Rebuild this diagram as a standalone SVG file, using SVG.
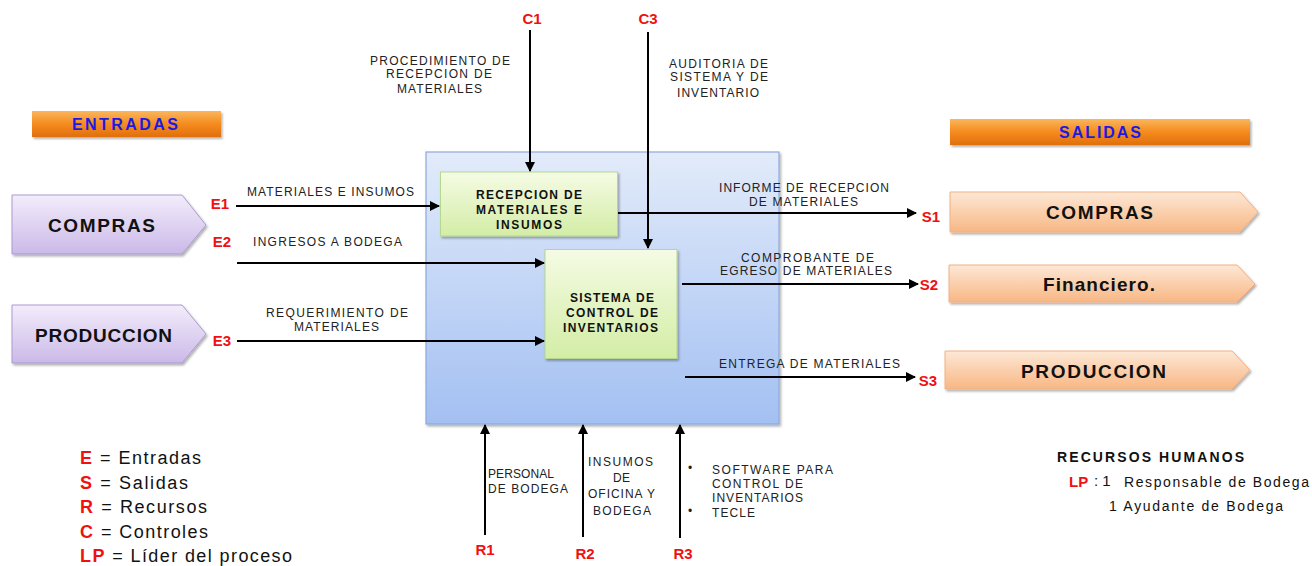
<svg xmlns="http://www.w3.org/2000/svg" width="1312" height="566" viewBox="0 0 1312 566">
<defs>
<linearGradient id="gBlue" x1="0" y1="0" x2="0" y2="1"><stop offset="0" stop-color="#e2ebfa"/><stop offset="1" stop-color="#a3c0f2"/></linearGradient>
<linearGradient id="gGreen" x1="0" y1="0" x2="0" y2="1"><stop offset="0" stop-color="#f5fbe4"/><stop offset="1" stop-color="#d3eda6"/></linearGradient>
<linearGradient id="gLav" x1="0" y1="0" x2="0" y2="1"><stop offset="0" stop-color="#f3edfb"/><stop offset="1" stop-color="#cbb9e8"/></linearGradient>
<linearGradient id="gPeach" x1="0" y1="0" x2="0" y2="1"><stop offset="0" stop-color="#fde8d6"/><stop offset="1" stop-color="#f8b784"/></linearGradient>
<linearGradient id="gOrange" x1="0" y1="0" x2="0" y2="1"><stop offset="0" stop-color="#fbb65e"/><stop offset="0.5" stop-color="#f58b1e"/><stop offset="1" stop-color="#e06f0d"/></linearGradient>
<filter id="sh" x="-10%" y="-10%" width="120%" height="130%"><feDropShadow dx="1.5" dy="2" stdDeviation="1.2" flood-color="#000" flood-opacity="0.3"/></filter>
<marker id="arr" viewBox="0 0 10 10" refX="9" refY="5" markerWidth="5" markerHeight="5" orient="auto"><path d="M0,0 L10,5 L0,10 z" fill="#000"/></marker>
</defs>
<style>
text{font-family:"Liberation Sans",Arial,sans-serif;}
.lbl{font-size:12px;fill:#222;}
.red{font-size:15px;font-weight:bold;fill:#f01010;}
.box{font-size:12px;font-weight:bold;fill:#111;}
.big{font-size:19px;font-weight:bold;fill:#111;}
.ttl{font-size:16px;font-weight:bold;fill:#1a1ae6;}
.leg{font-size:18px;fill:#111;}
.legr{font-size:18px;font-weight:bold;fill:#f01010;}
.ln{stroke:#000;stroke-width:2;fill:none;}
</style>

<g id="entradas-title">
<rect x="32" y="111" width="189" height="26" fill="url(#gOrange)" filter="url(#sh)"/>
<text x="72" y="130" class="ttl" textLength="106" lengthAdjust="spacing">ENTRADAS</text>
</g>
<g id="salidas-title">
<rect x="950" y="119" width="300" height="26" fill="url(#gOrange)" filter="url(#sh)"/>
<text x="1059" y="138" class="ttl" textLength="82" lengthAdjust="spacing">SALIDAS</text>
</g>

<g id="in-compras">
<path d="M12,195 L182,195 L206,225 L182,254 L12,254 Z" fill="url(#gLav)" stroke="#a99bd0" stroke-width="1" filter="url(#sh)"/>
<text x="48" y="232" class="big" textLength="107" lengthAdjust="spacing">COMPRAS</text>
</g>
<g id="in-produccion">
<path d="M12,305 L182,305 L206,334 L182,363 L12,363 Z" fill="url(#gLav)" stroke="#a99bd0" stroke-width="1" filter="url(#sh)"/>
<text x="35" y="342" class="big" textLength="137" lengthAdjust="spacing">PRODUCCION</text>
</g>

<g id="out-compras">
<path d="M950,192 L1240,192 L1258,212 L1240,232 L950,232 Z" fill="url(#gPeach)" stroke="#f2b082" stroke-width="1" filter="url(#sh)"/>
<text x="1046" y="219" class="big" textLength="107" lengthAdjust="spacing">COMPRAS</text>
</g>
<g id="out-financiero">
<path d="M949,265 L1237,265 L1255,284 L1237,302 L949,302 Z" fill="url(#gPeach)" stroke="#f2b082" stroke-width="1" filter="url(#sh)"/>
<text x="1043" y="291" class="big" textLength="112" lengthAdjust="spacing">Financiero.</text>
</g>
<g id="out-produccion">
<path d="M945,351 L1232,351 L1250,370 L1232,389 L945,389 Z" fill="url(#gPeach)" stroke="#f2b082" stroke-width="1" filter="url(#sh)"/>
<text x="1021" y="378" class="big" textLength="145" lengthAdjust="spacing">PRODUCCION</text>
</g>

<g id="process">
<rect x="426" y="152" width="353" height="272" fill="url(#gBlue)" stroke="#8eaadb" stroke-width="1.2" filter="url(#sh)"/>
</g>
<g id="recepcion">
<rect x="440.5" y="172" width="177" height="64" fill="url(#gGreen)" stroke="#b5d88f" stroke-width="1" filter="url(#sh)"/>
<text x="476" y="199" class="box" textLength="106" lengthAdjust="spacing">RECEPCION DE</text>
<text x="476" y="214" class="box" textLength="106" lengthAdjust="spacing">MATERIALES E</text>
<text x="496" y="229" class="box" textLength="66" lengthAdjust="spacing">INSUMOS</text>
</g>
<g id="sistema">
<rect x="545" y="249.5" width="132" height="109" fill="url(#gGreen)" stroke="#b5d88f" stroke-width="1" filter="url(#sh)"/>
<text x="570" y="302" class="box" textLength="84" lengthAdjust="spacing">SISTEMA DE</text>
<text x="566" y="317" class="box" textLength="92" lengthAdjust="spacing">CONTROL DE</text>
<text x="563" y="332" class="box" textLength="95" lengthAdjust="spacing">INVENTARIOS</text>
</g>

<g id="connectors">
<line x1="530" y1="30" x2="530" y2="171" class="ln" marker-end="url(#arr)"/>
<line x1="648" y1="32" x2="648" y2="248" class="ln" marker-end="url(#arr)"/>
<line x1="236" y1="206" x2="439" y2="206" class="ln" marker-end="url(#arr)"/>
<line x1="237" y1="263" x2="544" y2="263" class="ln" marker-end="url(#arr)"/>
<line x1="237" y1="341" x2="544" y2="341" class="ln" marker-end="url(#arr)"/>
<line x1="618" y1="213" x2="916" y2="213" class="ln" marker-end="url(#arr)"/>
<line x1="682" y1="284" x2="918" y2="284" class="ln" marker-end="url(#arr)"/>
<line x1="685" y1="377" x2="915" y2="377" class="ln" marker-end="url(#arr)"/>
<line x1="485" y1="535" x2="485" y2="425" class="ln" marker-end="url(#arr)"/>
<line x1="583" y1="537" x2="583" y2="425" class="ln" marker-end="url(#arr)"/>
<line x1="680" y1="538" x2="680" y2="425" class="ln" marker-end="url(#arr)"/>
</g>

<g id="labels">
<text x="532" y="24" text-anchor="middle" class="red">C1</text>
<text x="648" y="24" text-anchor="middle" class="red">C3</text>
<text x="370" y="65" class="lbl" textLength="140" lengthAdjust="spacing">PROCEDIMIENTO  DE</text>
<text x="386" y="78" class="lbl" textLength="106" lengthAdjust="spacing">RECEPCION  DE</text>
<text x="397" y="93" class="lbl" textLength="85" lengthAdjust="spacing">MATERIALES</text>
<text x="669" y="68" class="lbl" textLength="99" lengthAdjust="spacing">AUDITORIA  DE</text>
<text x="670" y="81" class="lbl" textLength="98" lengthAdjust="spacing">SISTEMA  Y  DE</text>
<text x="677" y="97" class="lbl" textLength="82" lengthAdjust="spacing">INVENTARIO</text>

<text x="220" y="209" text-anchor="middle" class="red">E1</text>
<text x="222" y="247" text-anchor="middle" class="red">E2</text>
<text x="222" y="346" text-anchor="middle" class="red">E3</text>
<text x="247" y="196" class="lbl" textLength="167" lengthAdjust="spacing">MATERIALES  E INSUMOS</text>
<text x="253" y="246" class="lbl" textLength="149" lengthAdjust="spacing">INGRESOS  A BODEGA</text>
<text x="266" y="317" class="lbl" textLength="142" lengthAdjust="spacing">REQUERIMIENTO  DE</text>
<text x="294" y="331" class="lbl" textLength="85" lengthAdjust="spacing">MATERIALES</text>

<text x="931" y="222" text-anchor="middle" class="red">S1</text>
<text x="929" y="290" text-anchor="middle" class="red">S2</text>
<text x="928" y="386" text-anchor="middle" class="red">S3</text>
<text x="719" y="192" class="lbl" textLength="170" lengthAdjust="spacing">INFORME  DE RECEPCION</text>
<text x="749" y="206" class="lbl" textLength="109" lengthAdjust="spacing">DE MATERIALES</text>
<text x="741" y="262" class="lbl" textLength="133" lengthAdjust="spacing">COMPROBANTE  DE</text>
<text x="720" y="275" class="lbl" textLength="172" lengthAdjust="spacing">EGRESO  DE MATERIALES</text>
<text x="719" y="368" class="lbl" textLength="181" lengthAdjust="spacing">ENTREGA  DE MATERIALES</text>

<text x="485" y="555" text-anchor="middle" class="red">R1</text>
<text x="585" y="559" text-anchor="middle" class="red">R2</text>
<text x="683" y="559" text-anchor="middle" class="red">R3</text>
<text x="488" y="478" class="lbl" textLength="66" lengthAdjust="spacing">PERSONAL</text>
<text x="488" y="493" class="lbl" textLength="80" lengthAdjust="spacing">DE BODEGA</text>
<text x="588" y="466" class="lbl" textLength="65" lengthAdjust="spacing">INSUMOS</text>
<text x="613" y="482" class="lbl" textLength="17" lengthAdjust="spacing">DE</text>
<text x="588" y="498" class="lbl" textLength="67" lengthAdjust="spacing">OFICINA Y</text>
<text x="593" y="515" class="lbl" textLength="58" lengthAdjust="spacing">BODEGA</text>
<text x="688" y="472" class="lbl" font-size="9">•</text>
<text x="712" y="474" class="lbl" textLength="121" lengthAdjust="spacing">SOFTWARE PARA</text>
<text x="712" y="488" class="lbl" textLength="91" lengthAdjust="spacing">CONTROL  DE</text>
<text x="712" y="502" class="lbl" textLength="91" lengthAdjust="spacing">INVENTARIOS</text>
<text x="688" y="515" class="lbl" font-size="9">•</text>
<text x="712" y="517" class="lbl" textLength="43" lengthAdjust="spacing">TECLE</text>
</g>

<g id="legend">
<text x="80" y="464" textLength="121" lengthAdjust="spacing"><tspan class="legr">E</tspan><tspan class="leg"> = Entradas</tspan></text>
<text x="80" y="489" textLength="108" lengthAdjust="spacing"><tspan class="legr">S</tspan><tspan class="leg"> = Salidas</tspan></text>
<text x="80" y="513" textLength="127" lengthAdjust="spacing"><tspan class="legr">R</tspan><tspan class="leg"> = Recursos</tspan></text>
<text x="80" y="538" textLength="128" lengthAdjust="spacing"><tspan class="legr">C</tspan><tspan class="leg"> = Controles</tspan></text>
<text x="80" y="562" textLength="212" lengthAdjust="spacing"><tspan class="legr">LP</tspan><tspan class="leg"> = Líder del proceso</tspan></text>
</g>

<g id="recursos-humanos">
<text x="1057" y="462" font-size="14" font-weight="bold" fill="#111" textLength="187" lengthAdjust="spacing">RECURSOS HUMANOS</text>
<text x="1069" y="487" font-size="15" font-weight="bold" fill="#f01010">LP</text>
<text x="1094" y="486" font-size="15" fill="#111">: 1</text>
<text x="1124" y="487" font-size="14" fill="#111" textLength="185" lengthAdjust="spacing">Responsable de Bodega</text>
<text x="1109" y="511" font-size="14" fill="#111" textLength="174" lengthAdjust="spacing">1 Ayudante de Bodega</text>
</g>
</svg>
